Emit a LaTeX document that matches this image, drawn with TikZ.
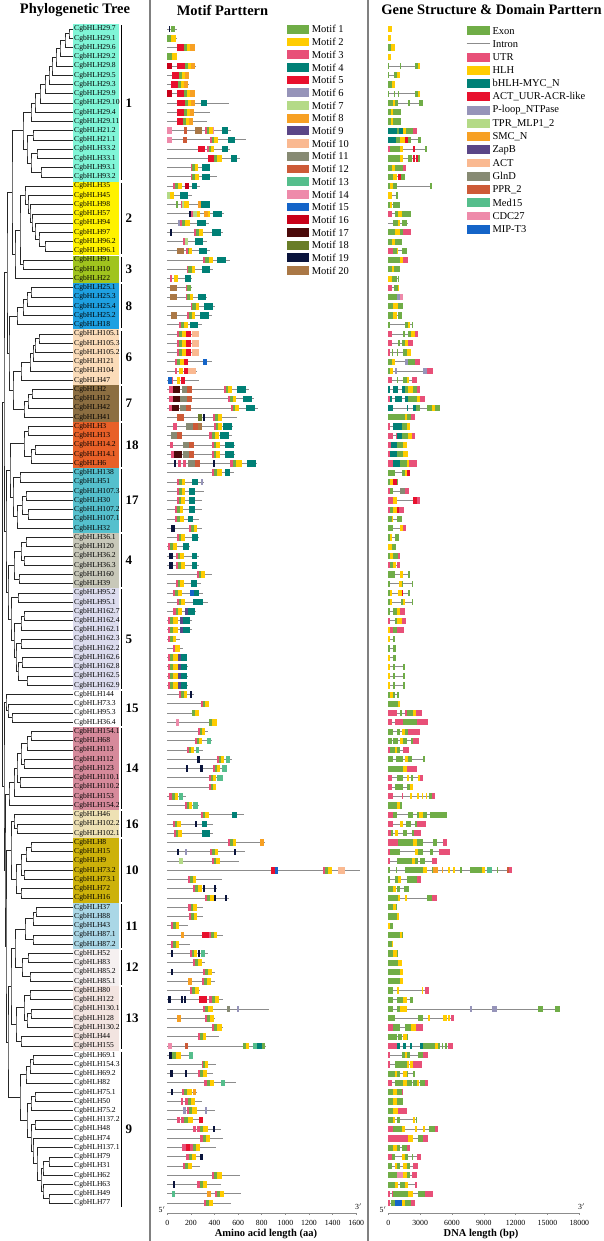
\documentclass[tikz,border=0pt]{standalone}
\usepackage{fontspec}
\setmainfont{Liberation Serif}
\usetikzlibrary{calc}

% motif / domain palette
\definecolor{m1}{RGB}{112,173,71}
\definecolor{m2}{RGB}{255,204,0}
\definecolor{m3}{RGB}{232,80,120}
\definecolor{m4}{RGB}{0,128,118}
\definecolor{m5}{RGB}{232,16,45}
\definecolor{m6}{RGB}{150,148,185}
\definecolor{m7}{RGB}{180,218,135}
\definecolor{m8}{RGB}{247,160,35}
\definecolor{m9}{RGB}{90,70,135}
\definecolor{m10}{RGB}{250,185,145}
\definecolor{m11}{RGB}{135,138,115}
\definecolor{m12}{RGB}{205,90,55}
\definecolor{m13}{RGB}{85,190,140}
\definecolor{m14}{RGB}{238,138,170}
\definecolor{m15}{RGB}{20,100,200}
\definecolor{m16}{RGB}{200,0,25}
\definecolor{m17}{RGB}{75,10,10}
\definecolor{m18}{RGB}{105,125,40}
\definecolor{m19}{RGB}{10,20,60}
\definecolor{m20}{RGB}{170,120,70}
% clade shading
\definecolor{grpA}{RGB}{128,245,215}
\definecolor{grpB}{RGB}{255,242,0}
\definecolor{grpC}{RGB}{160,196,30}
\definecolor{grpD}{RGB}{30,160,225}
\definecolor{grpE}{RGB}{251,220,185}
\definecolor{grpF}{RGB}{140,110,65}
\definecolor{grpG}{RGB}{232,96,40}
\definecolor{grpH}{RGB}{85,192,205}
\definecolor{grpI}{RGB}{200,200,185}
\definecolor{grpJ}{RGB}{220,220,238}
\definecolor{grpK}{RGB}{214,138,155}
\definecolor{grpL}{RGB}{238,225,180}
\definecolor{grpM}{RGB}{205,178,10}
\definecolor{grpN}{RGB}{170,215,230}
\definecolor{grpO}{RGB}{245,240,240}
\definecolor{grpP}{RGB}{242,228,224}

% row r sits at y = 19.755 + r*9.245 (pixel grid, y downwards)
\newcommand{\rowy}[1]{19.755+#1*9.245}
% dendrogram joint: name, x, child, child
\newcommand{\clade}[4]{%
  \path let \p1=(#3), \p2=(#4) in coordinate (#1) at (#2pt,{0.5*(\y1+\y2)});
  \draw[branch] (#3) -| (#1) |- (#4);}
% motif row: row, length, boxes x/w/colour (colour 0 = pink-green-yellow block)
\newcommand{\motifrow}[3]{%
  \draw[prot] (167.3,{\rowy{#1}}) -- ++(#2,0);
  \foreach \bx/\bw/\bc in {#3}{
    \ifnum\bc=0
      \fill[m3] ({167.3+\bx},{\rowy{#1}-3.3}) rectangle ++({0.25*\bw},6.6);
      \fill[m1] ({167.3+\bx+0.25*\bw},{\rowy{#1}-3.3}) rectangle ++({0.3*\bw},6.6);
      \fill[m2] ({167.3+\bx+0.55*\bw},{\rowy{#1}-3.3}) rectangle ++({0.45*\bw},6.6);
    \else
      \fill[m\bc] ({167.3+\bx},{\rowy{#1}-3.3}) rectangle ++(\bw,6.6);
    \fi}}
% gene row: row, length, exons x/w/colour
\newcommand{\generow}[3]{%
  \draw[prot] (388.3,{\rowy{#1}}) -- ++(#2,0);
  \foreach \bx/\bw/\bc in {#3}
    \fill[m\bc] ({388.3+\bx},{\rowy{#1}-3.1}) rectangle ++(\bw,6.2);}

\begin{document}
\begin{tikzpicture}[
    x=1pt, y=-1pt,
    every node/.style={inner sep=0pt},
    title/.style ={font=\fontsize{14.5}{16}\selectfont\bfseries},
    gene/.style  ={anchor=west,font=\fontsize{7.6}{8}\selectfont},
    grpnum/.style={anchor=west,font=\fontsize{13}{14}\selectfont\bfseries},
    legtxt/.style={anchor=west,font=\fontsize{10.5}{12}\selectfont},
    tick/.style  ={font=\fontsize{7.8}{9}\selectfont},
    axtitle/.style={font=\fontsize{10.5}{12}\selectfont\bfseries},
    branch/.style={line width=0.75pt,black!85},
    prot/.style  ={line width=0.9pt,black!45},
    sep/.style   ={line width=1.6pt,black!50},
  ]
  \useasboundingbox (0,0) rectangle (603,1241);

  % Titles and panel separators
  \node[title] (t1) at (75,10) {Phylogenetic Tree};
  \node[title] (t2) at (222.5,10) {Motif Parttern};
  \node[title] (t3) at (491.5,10) {Gene Structure \& Domain Parttern};
  \draw[sep] (150,0) -- (150,1241);
  \draw[sep] (368,0) -- (368,1241);

  % Clade shading, bars and numbers
  \foreach \a/\b/\c/\n in {1/17/grpA/1,18/25/grpB/2,26/28/grpC/3,29/33/grpD/8,
      34/39/grpE/6,40/43/grpF/7,44/48/grpG/18,49/55/grpH/17,56/61/grpI/4,
      62/72/grpJ/5,73/76/white/15,77/85/grpK/14,86/88/grpL/16,89/95/grpM/10,
      96/100/grpN/11,101/104/grpO/12,105/111/grpP/13,112/128/white/9}{
    \fill[\c] (73.3,{\rowy{\a}-4.6}) rectangle (119,{\rowy{\b}+4.6});
    \draw[line width=1pt] (121.7,{\rowy{\a}-3.5}) -- (121.7,{\rowy{\b}+3.5});
    \node[grpnum] (n\n) at (125.5,{0.5*(\rowy{\a}+\rowy{\b})}) {\n};
  }

  % Leaves and labels
  \foreach \g [count=\i] in {29.7,29.1,29.6,29.2,29.8,29.5,29.3,29.9,29.10,29.4,
      29.11,21.2,21.1,33.2,33.1,93.1,93.2,35,45,98,57,94,97,96.2,96.1,91,10,22,
      25.1,25.3,25.4,25.2,18,105.1,105.3,105.2,121,104,47,2,12,42,41,3,13,14.2,
      14.1,6,138,51,107.3,30,107.2,107.1,32,36.1,120,36.2,36.3,160,39,95.2,95.1,
      162.7,162.4,162.1,162.3,162.2,162.6,162.8,162.5,162.9,144,73.3,95.3,36.4,
      154.1,68,113,112,123,110.1,110.2,153,154.2,46,102.2,102.1,8,15,9,73.2,73.1,
      72,16,37,88,43,87.1,87.2,52,83,85.2,85.1,80,122,130.1,128,130.2,44,155,
      69.1,154.3,69.2,82,75.1,50,75.2,137.2,48,74,137.1,79,31,62,63,49,77}{
    \coordinate (l\i) at (73,{\rowy{\i}});
    \node[gene] (lab\i) at (74,{\rowy{\i}}) {CgbHLH\g};
  }

  % Tree: clade 1
  \clade{a1}{69}{l1}{l2} \clade{a2}{65}{a1}{l3} \clade{a3}{60}{a2}{l4}
  \clade{a4}{56}{a3}{l5} \clade{a5}{52}{a4}{l6} \clade{a6}{49}{a5}{l7}
  \clade{a7}{45}{a6}{l8} \clade{a8}{40}{a7}{l9} \clade{a9}{35}{a8}{l10}
  \clade{a10}{31}{a9}{l11}
  \clade{b1}{33}{l12}{l13} \clade{b2}{37}{l14}{l15} \clade{b3}{41}{l16}{l17}
  \clade{b4}{31}{b2}{b3} \clade{b5}{27}{b1}{b4} \clade{g1}{23}{a10}{b5}
  % clades 2 and 3
  \clade{c1}{45}{l24}{l25} \clade{c2}{39}{l23}{c1} \clade{c3}{35}{l22}{c2}
  \clade{c4}{32}{l21}{c3} \clade{c5}{30}{l20}{c4} \clade{c6}{28}{l19}{c5}
  \clade{g2}{25}{l18}{c6}
  \clade{d1}{23}{l26}{l27} \clade{d2}{20}{g2}{d1} \clade{g3}{15}{d2}{l28}
  \clade{t1}{12}{g1}{g3}
  % clades 8, 6, 7
  \clade{e1}{31}{l29}{l30} \clade{e2}{27}{e1}{l31} \clade{e3}{23}{e2}{l32}
  \clade{g8}{17}{e3}{l33}
  \clade{f1}{39}{l34}{l35} \clade{f2}{35}{f1}{l36} \clade{f3}{33}{f2}{l37}
  \clade{f4}{30}{f3}{l38} \clade{g6}{21}{f4}{l39}
  \clade{h1}{32}{l40}{l41} \clade{h2}{28}{h1}{l42} \clade{g7}{24}{h2}{l43}
  \clade{m1}{13}{g6}{g7} \clade{m2}{9}{g8}{m1}
  % clades 18, 17
  \clade{i1}{28}{l44}{l45} \clade{i2}{35}{l46}{l47} \clade{i3}{31}{i2}{l48}
  \clade{g18}{24}{i1}{i3}
  \clade{j1}{20}{l49}{l50} \clade{j2}{26}{l51}{l52} \clade{j3}{28}{l53}{l54}
  \clade{j4}{22}{j2}{j3} \clade{j5}{17}{j4}{l55} \clade{g17}{13}{j1}{j5}
  \clade{m3}{10}{g18}{g17}
  % clades 4, 5
  \clade{k1}{26}{l56}{l57} \clade{k2}{24}{l58}{l59} \clade{k3}{21}{k1}{k2}
  \clade{k4}{19}{l60}{l61} \clade{g4}{14}{k3}{k4}
  \clade{o1}{18}{l62}{l63} \clade{o2}{24}{l64}{l65} \clade{o3}{21}{o2}{l66}
  \clade{o4}{21}{l67}{l68} \clade{o5}{22}{l69}{l70} \clade{o6}{27}{l71}{l72}
  \clade{o7}{18}{o5}{o6} \clade{o8}{16}{o4}{o7} \clade{o9}{14}{o3}{o8}
  \clade{g5}{11}{o1}{o9} \clade{m4}{8}{g4}{g5}
  % clades 15, 14, 16, 10
  \clade{p1}{12}{l75}{l76} \clade{p2}{8}{l74}{p1} \clade{g15}{6}{l73}{p2}
  \clade{q1}{31}{l77}{l78} \clade{q2}{27}{q1}{l79} \clade{q3}{24}{l80}{l81}
  \clade{q4}{21}{q2}{q3} \clade{q5}{20}{l82}{l83} \clade{q6}{17}{q4}{q5}
  \clade{q7}{14}{q6}{l84} \clade{g14}{9}{q7}{l85}
  \clade{r1}{17}{l87}{l88} \clade{g16}{14}{l86}{r1}
  \clade{s1}{31}{l89}{l90} \clade{s2}{26}{s1}{l91} \clade{s3}{24}{l92}{l93}
  \clade{s4}{21}{s2}{s3} \clade{s5}{21}{l94}{l95} \clade{g10}{16}{s4}{s5}
  % clades 11, 12, 13, 9
  \clade{u1}{36}{l96}{l97} \clade{u2}{33}{u1}{l98} \clade{u3}{33}{l99}{l100}
  \clade{g11}{25}{u2}{u3}
  \clade{v1}{28}{l101}{l102} \clade{v2}{30}{l103}{l104} \clade{g12}{22}{v1}{v2}
  \clade{w1}{30}{l105}{l106} \clade{w2}{31}{l107}{l108} \clade{w3}{27}{w2}{l109}
  \clade{w4}{24}{w1}{w3} \clade{w5}{21}{l110}{l111} \clade{g13}{16}{w4}{w5}
  \clade{x1}{33}{l112}{l113} \clade{x2}{30}{x1}{l114} \clade{x3}{26}{x2}{l115}
  \clade{x4}{35}{l116}{l117} \clade{x5}{31}{x4}{l118} \clade{x6}{35}{l119}{l120}
  \clade{y1}{49}{l123}{l124} \clade{y2}{43}{y1}{l125} \clade{y3}{49}{l127}{l128}
  \clade{y4}{43}{l126}{y3} \clade{y5}{41}{y2}{y4} \clade{y6}{37}{l122}{y5}
  \clade{y7}{33}{l121}{y6} \clade{x7}{31}{x6}{y7} \clade{x8}{27}{x5}{x7}
  \clade{g9}{20}{x3}{x8}
  % backbone
  \clade{U1}{7}{t1}{m2} \clade{U2}{6}{m3}{m4} \clade{U3}{4}{U1}{U2}
  \clade{L1}{11}{g16}{g10} \clade{L2}{15}{g11}{g12} \clade{L3}{11}{L2}{g13}
  \clade{L4}{8}{L3}{g9} \clade{L5}{6}{L1}{L4} \clade{L6}{5}{g14}{L5}
  \clade{L7}{4}{g15}{L6} \clade{root}{2.5}{U3}{L7}

  % Motif pattern
  \motifrow{1}{9.4}{1.7/1.3/19,3.7/4/1}
  \motifrow{2}{9.4}{0/3.7/1,3.7/4.6/2}
  \motifrow{3}{27.8}{10/6.7/5,16.7/2.7/1,19.4/3.3/2,22.7/4.7/8}
  \motifrow{4}{9.4}{0/4.3/1,4.3/5/2}
  \motifrow{5}{28.7}{0/5/16,10/7.7/5,17.7/2.6/1,20.3/3/2,23.3/4.7/8}
  \motifrow{6}{22}{4.4/7.3/5,11.7/2.6/1,14.3/3/2,17.3/4/8}
  \motifrow{7}{21.4}{3.4/7.7/5,11.1/2.6/1,13.7/3/2,16.7/4.3/8}
  \motifrow{8}{28}{0/5/16,10/7/5,17/2.7/1,19.7/3/2,22.7/4.6/8}
  \motifrow{9}{62}{10/7.7/5,17.7/2.6/1,20.3/3/2,23.3/4.7/8,33.4/6/4}
  \motifrow{10}{42.7}{9.4/7.3/5,16.7/2.7/1,19.4/3.3/2,22.7/4.3/8}
  \motifrow{11}{39.4}{9.4/6.6/5,16/2.7/1,18.7/3.3/2,22/3.3/8}
  \motifrow{12}{63.4}{0/4.3/14,16.7/2.7/12,27.4/7/20,37.4/2/3,39.4/2.7/1,42.1/3.3/2,45.4/1/14,54.4/6/4}
  \motifrow{13}{78.7}{0/4.3/14,16/3.3/12,42.7/2/3,44.7/2.3/1,47/3.3/2,60.4/7.3/4}
  \motifrow{14}{62.7}{31/6.7/5,39.4/2.3/3,41.7/2/1,43.7/3/2,54.7/5.7/4}
  \motifrow{15}{72.7}{40.4/6.3/5,46.7/3.3/1,50/4.3/2,63.4/6.6/4}
  \motifrow{16}{42.7}{23.7/1.3/3,25/2.7/1,27.7/3.3/2,34.4/8.3/4}
  \motifrow{17}{49.4}{23.4/1.7/3,25/2.7/1,27.7/4/2,34.4/8.3/4}
  \motifrow{18}{32.7}{6/1.7/3,7.7/3.3/1,11/4/2,17.7/4/16,24.4/5/4}
  \motifrow{19}{24.4}{0/3/7,3/3.7/2,12.7/7.7/4}
  \motifrow{20}{42.7}{8.4/2.6/1,13.4/1.7/3,15/2/7,16.7/4.6/2,30.4/3.3/8,33.7/9/4}
  \motifrow{21}{56.7}{21.7/1.5/19,23.4/2.6/3,26/4/7,30/3/2,37/4/8,41/2/2,45.4/9/4}
  \motifrow{22}{42}{11/1.7/6,12.7/2.3/3,15/2.7/1,17.7/5/2,30/8.7/4}
  \motifrow{23}{56}{2.7/2.3/19,27/1.3/3,28.3/3.7/1,32/3.3/2,44.4/9/4}
  \motifrow{24}{39.4}{16/1.7/3,17.7/3.3/7,27.7/8.3/4}
  \motifrow{25}{42.7}{9.4/7.3/20,18.7/1.7/3,20.4/1.6/1,22/3/2,31.7/7.7/4}
  \motifrow{26}{62.7}{35.4/2/3,37.4/4/1,41.4/4.6/2,50/8.7/4}
  \motifrow{27}{46}{19.4/1.7/3,21/3.4/1,24.4/3/2,34.4/8.3/4}
  \motifrow{28}{24.4}{2.7/2.3/3,7/3.3/2,17.7/6/4}
  \motifrow{29}{24.4}{2.7/6.7/20,18.7/1.3/3,20/3.4/1}
  \motifrow{30}{39.4}{2.7/7.3/20,18.7/1.3/3,20/2.7/1,22.7/3.3/2,30.4/8.3/4}
  \motifrow{31}{47.7}{23.7/1.3/3,25/3.4/1,28.4/3.6/2,37/9/4}
  \motifrow{32}{44.4}{3.4/6.6/20,20/1.7/3,21.7/2.6/1,24.3/3.4/2,32.7/9/4}
  \motifrow{33}{34.4}{12/1.7/3,13.7/3/1,16.7/3.6/2,22.7/8.3/4}
  \motifrow{34}{31.7}{9.4/9/0,18.4/5/5,24.4/7.3/10}
  \motifrow{35}{31.7}{9.4/9/0,18.4/5/5,24.4/7.3/10}
  \motifrow{36}{31.7}{9.4/9/0,18.4/5/5,24.4/7.3/10}
  \motifrow{37}{45}{7.7/8.7/0,16.7/4.4/5,36/4/15}
  \motifrow{38}{29.4}{7.7/2.3/3,12/4/2,16.7/4.3/5,21/7.7/10}
  \motifrow{39}{31.7}{1/3.4/15,4.4/1.6/3,9.4/3.3/2,13.4/4.3/5}
  \motifrow{40}{82}{2/3.4/3,5.4/7.3/17,14.4/5/11,19.4/5/12,56.7/7.7/0,70/8.4/4}
  \motifrow{41}{86.7}{2/3.4/3,5.4/7.3/17,12.7/6.6/11,19.4/5/12,61/7.7/0,75.4/9/4}
  \motifrow{42}{91}{2/2.4/3,4.4/7.6/17,12.7/6/11,18.7/5.3/12,63.4/8.3/0,78.7/9/4}
  \motifrow{43}{70}{9.4/7.3/12,30.4/4/18,36/2/19,46/8.4/0}
  \motifrow{44}{65.4}{6/3.4/3,18.7/7.3/11,26/5/12,31/3.4/20,46.7/7.7/0,56/8.4/4}
  \motifrow{45}{64.4}{3.4/6/11,9.4/5/12,42/10/0,52.7/9.4/4}
  \motifrow{46}{67.7}{2.7/3.3/3,15.4/6/11,21.4/5.3/12,44.4/8.3/0,57.7/9/4}
  \motifrow{47}{67.7}{3.4/3.3/3,6.7/7.7/17,15.4/6/11,21.4/5.3/12,44.4/8.3/0,57.7/9/4}
  \motifrow{48}{90}{6.7/2/19,11/2.4/3,16/2.4/3,21/7/11,28/4.7/12,46/2/19,62.7/11.7/0,80/8.7/4}
  \motifrow{49}{66.7}{44.4/10/0,57.7/5/4}
  \motifrow{50}{36.7}{10/7.7/0,24.4/6.6/4,33.4/2.6/6}
  \motifrow{51}{36.7}{10/7.7/0,22/5.7/4}
  \motifrow{52}{35}{9.4/8.3/0,22/5.7/4}
  \motifrow{53}{34.4}{7.7/8.3/0,22/5.7/4}
  \motifrow{54}{32}{7.7/9/0,21/5/4}
  \motifrow{55}{34.4}{3.4/4.3/19,22/8/0}
  \motifrow{56}{32}{9.4/8.3/0,24.4/6.6/4}
  \motifrow{57}{22.7}{1/1.7/3,2.7/3/1,5.7/3.7/2,15.4/6.6/4}
  \motifrow{58}{32}{2/3.4/19,8.7/8/0,24.4/5.6/4}
  \motifrow{59}{32}{2/3.4/19,8.7/9/0,24.4/5.6/4}
  \motifrow{60}{45}{29.4/8.3/0}
  \motifrow{61}{33.4}{8.7/8/0,23.4/6/4}
  \motifrow{62}{35.4}{6/1.7/3,7.7/3/1,10.7/3.7/2,22.7/4/15,26.7/5/4}
  \motifrow{63}{41}{9.4/8.3/0,26/9.4/4}
  \motifrow{64}{28.7}{5.4/1.3/3,6.7/7.7/0,17.7/3.3/9,21/6.7/4}
  \motifrow{65}{24.4}{1/1.7/3,2.7/3/1,5.7/5/2,12.7/3.4/9,16/6.7/4}
  \motifrow{66}{25}{1/1.7/3,2.7/3/1,5.7/5/2,12.7/3.4/9,16/6.7/4}
  \motifrow{67}{12.4}{1/1.7/3,2.7/3/1,5.7/3/2}
  \motifrow{68}{15.4}{5.4/2.3/3,7.7/5/2}
  \motifrow{69}{20}{1/1.7/3,2.7/3/1,5.7/4.6/2,11/2.4/9,13.4/6.6/4}
  \motifrow{70}{21}{1/1.7/3,2.7/3/1,5.7/4.6/2,11/2.4/9,13.4/6.6/4}
  \motifrow{71}{21}{1/1.7/3,2.7/3/1,5.7/4.6/2,11/2.4/9,13.4/6.6/4}
  \motifrow{72}{21}{1/1.7/3,2.7/3/1,5.7/4.6/2,11/2.4/9,13.4/6.6/4}
  \motifrow{73}{26.7}{12/7.7/0,22.7/2/19}
  \motifrow{74}{41}{33.4/8.3/0}
  \motifrow{75}{32}{24.4/3/1,27.4/4.6/2}
  \motifrow{76}{49.4}{8.7/3.3/14,42/3/1,45/4.4/2}
  \motifrow{77}{41}{31/6.7/0}
  \motifrow{78}{44.4}{27.7/6.7/0,39.4/4/13}
  \motifrow{79}{36}{20/6.7/0,28.7/3.3/13}
  \motifrow{80}{64.4}{30/2.7/19,50/6.7/0,58.7/4/13}
  \motifrow{81}{59.4}{18.7/2.3/19,32.7/2.6/19,46/6.7/0,54.4/5/13}
  \motifrow{82}{56}{42/6.7/0,50/5.4/13}
  \motifrow{83}{48.7}{42/6.7/0}
  \motifrow{84}{18.7}{2/2.3/3,4.4/3/1,7.4/3.6/2,12/4/13}
  \motifrow{85}{32}{17.7/6.7/0,26/5/13}
  \motifrow{86}{76.7}{33.4/8.6/0,64.4/5.6/4}
  \motifrow{87}{45.4}{5.4/8/0,27.7/2.3/19,34.4/5.6/4}
  \motifrow{88}{45.4}{6.7/7.6/0,34.4/8.3/4}
  \motifrow{89}{97.7}{61/7.7/0,92.7/4/8}
  \motifrow{90}{77.7}{10/2/19,17.7/1.7/6,42.7/8.3/0,66.7/2/19}
  \motifrow{91}{71.7}{12/4/7,44.4/8.3/0}
  \motifrow{92}{192.7}{103.4/4.3/5,107.7/3.3/15,155.4/9/0,171/6.7/10}
  \motifrow{93}{54.4}{21/7.7/0}
  \motifrow{94}{49.4}{26/8.4/0,36/2/19,46.7/2/19}
  \motifrow{95}{61.7}{37.7/9/0,46.7/2/19,57.7/2.3/19}
  \motifrow{96}{35.4}{21/9/0}
  \motifrow{97}{36}{22/8/0}
  \motifrow{98}{21}{3.4/2/3,5.4/3/1,8.4/3.6/2}
  \motifrow{99}{56}{13.4/3.3/8,34.4/7.6/5,42/8/0}
  \motifrow{100}{22.7}{3.4/2/3,5.4/3/1,8.4/3.6/2}
  \motifrow{101}{41}{3.4/2.7/19,22.7/7.3/0,31/1.7/19,33.4/4.3/13}
  \motifrow{102}{37.7}{26/8.4/0}
  \motifrow{103}{47.7}{3.4/2/19,35.4/9/0}
  \motifrow{104}{47.7}{21/3.4/8,34.4/9/0}
  \motifrow{105}{32.7}{22.7/9.3/0}
  \motifrow{106}{56}{1/2.4/19,13.4/2.3/19,16.4/2.3/19,32/7.4/5,42/10/0}
  \motifrow{107}{102}{35.4/10/0,59.4/3.3/11,70/2/6}
  \motifrow{108}{47.7}{10/3.4/8,37.7/9/0}
  \motifrow{109}{55.4}{44.4/10/0}
  \motifrow{110}{52}{31/7.7/0}
  \motifrow{111}{98.7}{1/3.4/14,17.7/3.3/12,76/3/1,79/3/2,85.4/4/13,89.4/5/4,94.4/3.3/1}
  \motifrow{112}{26}{2/2.7/19,4.7/4/1,8.7/5/2,22/3.3/13}
  \motifrow{113}{48.7}{34.4/6.7/0}
  \motifrow{114}{45.4}{2.7/2.7/19,17.7/2.3/19,31/8.4/0}
  \motifrow{115}{68.7}{36.7/10/0,53.4/4.3/13}
  \motifrow{116}{30}{3.4/2.6/19,14.4/10/0,25.4/3.3/8}
  \motifrow{117}{34.4}{13.4/2.7/3,17.7/10/0}
  \motifrow{118}{47.7}{16/2.7/6,19.4/10/0,37.7/1.7/6}
  \motifrow{119}{36}{10/2.7/3,13.4/12.6/0,32/4/5}
  \motifrow{120}{53.4}{25.4/3.3/3,30/11/0,46/2/19}
  \motifrow{121}{56}{32.7/10/0}
  \motifrow{122}{48.7}{14.4/4.3/3,18.7/4/5,22.7/10/0}
  \motifrow{123}{36}{18.7/10/0,32.7/2.6/19}
  \motifrow{124}{32.7}{15.4/9/0}
  \motifrow{125}{72.7}{44.4/10/0}
  \motifrow{126}{53.4}{5.4/2.3/19,30/10/0}
  \motifrow{127}{73.4}{4.4/3.3/13,39.4/4/8,47.7/9/0}
  \motifrow{128}{63.4}{36.7/9.3/0}

  % Motif legend
  \foreach \k in {1,...,20}{
    \fill[m\k] (286.7,{29.3+(\k-1)*12.7-4.4}) rectangle ++(22.6,8.8);
    \node[legtxt] (ml\k) at (311.7,{29.3+(\k-1)*12.7}) {Motif \k};
  }

  % Gene structure
  \generow{1}{3.3}{0/3.3/2}
  \generow{2}{2.7}{0/2.7/2}
  \generow{3}{6.7}{0/3/1,3/3.7/2}
  \generow{4}{2.3}{0/2.3/2}
  \generow{5}{31.7}{0/1/1,11.7/1/1,26.7/2.7/1,29.4/2.3/2}
  \generow{6}{11.7}{0/1/1,6/2.3/1,8.3/3.4/2}
  \generow{7}{6.7}{0/3.3/1,3.3/3.4/2}
  \generow{8}{31.7}{0/1/1,6/1/1,10/1/1,26.7/2.7/1,29.4/2.3/2}
  \generow{9}{34.4}{0/5/1,5/1.7/2,6.7/2.6/1,20/1.7/1,31/3.4/1}
  \generow{10}{12.7}{0/2.7/1,2.7/2.3/2,5/7.7/1}
  \generow{11}{12.7}{0/2.7/1,2.7/2.3/2,5/7.7/1}
  \generow{12}{28.4}{0/8.3/4,8.3/2.4/1,10.7/4.3/4,15/2.3/2,17.3/7.7/1,25/3.4/3}
  \generow{13}{32.7}{0/7.3/4,7.3/4.4/1,11.7/5/2,16.7/3.3/5,20/2.7/1,30/2.7/1}
  \generow{14}{38.3}{0/1.7/3,1.7/10/1,11.7/3.3/2,24.4/2.3/5,36.7/1.6/1}
  \generow{15}{31.7}{0/11.7/1,11.7/3.3/2,20/3.3/1,25/1.7/5,27.7/2.3/5,30/1.7/1}
  \generow{16}{17.3}{0/3.3/1,3.3/3.4/2,6.7/8.3/1,15/2.3/3}
  \generow{17}{16.7}{0/5/1,5/3.3/2,10/2.7/5,12.7/4/1}
  \generow{18}{43.3}{0/1.7/1,1.7/3.3/2,5/3.3/1,41.7/1.6/1}
  \generow{19}{9.3}{0/3.3/2,7.3/2/1}
  \generow{20}{11.7}{0/1.7/1,1.7/1.6/2,5/6.7/1}
  \generow{21}{22.7}{0/3.3/3,6.7/3.3/1,10/3.3/2,13.3/9.4/1}
  \generow{22}{20}{5/5/1,10/1.7/2,13.3/5/1}
  \generow{23}{22.7}{0/6.7/1,6.7/5/2,11.7/3.3/1,15/7.7/3}
  \generow{24}{13.3}{0/3.3/1,3.3/3.4/2,6.7/6.6/1}
  \generow{25}{18.3}{0/5/3,5/3.3/1,8.3/1.7/2,13.3/5/1}
  \generow{26}{19.3}{0/11.7/1,11.7/3.3/2,15/4.3/3}
  \generow{27}{11.7}{0/3.3/1,3.3/2.7/2,6/5.7/1}
  \generow{28}{10.7}{0/3.3/2,3.3/5/1,10/0.7/1}
  \generow{29}{11}{0/4/3,5.7/3.6/1,9.3/1.7/2}
  \generow{30}{15}{0/8.3/1,8.3/3.4/6,11.7/3.3/14}
  \generow{31}{15}{0/5/1,5/5/2,10/5/1}
  \generow{32}{14}{0/5/1,5/3.3/2,9.3/4.7/1}
  \generow{33}{25}{0/1.7/1,16.7/3.3/1,20/1.7/2,23.3/1.7/1}
  \generow{34}{29.4}{0/3.4/3,15/1.7/1,20/3/1,23/3.4/2,26.7/2.7/3}
  \generow{35}{24.4}{0/3.4/3,10/2/1,13.4/3.3/1,16.7/3.3/2,20/4.4/3}
  \generow{36}{22.4}{0/1.7/3,3.4/1.7/1,8.4/1.7/1,15/3.4/1,18.4/4/2}
  \generow{37}{31.7}{0/3.4/1,3.4/3.3/2,16.7/3.3/6,20/6.7/1,26.7/5/3}
  \generow{38}{45}{0/1.7/1,1.7/3.3/2,6.7/1.7/6,35/3.3/6,38.4/6.6/3}
  \generow{39}{29}{0/3.4/3,8.4/1.7/1,15/3.4/1,18.4/2.6/2,23.4/5.6/3}
  \generow{40}{31.7}{0/1.7/4,5/5/4,13.4/3.3/4,16.7/3.3/1,20/5/2,25/3.4/1,28.4/3.3/3}
  \generow{41}{36.7}{0/1.7/3,1.7/1.7/4,6.7/6.7/4,16.7/3.3/4,20/8.4/1,28.4/3.3/2,31.7/5/3}
  \generow{42}{51.7}{0/5/4,18.4/1.6/4,24.4/3.3/4,27.7/4/1,38.4/5/1,43.4/3.3/2,46.7/5/1}
  \generow{43}{26.7}{0/16.7/1,16.7/2.3/2,19/3.4/1,22.4/4.3/3}
  \generow{44}{21.7}{0/1.7/3,5/8.4/4,13.4/5/1,18.4/3.3/2}
  \generow{45}{26.7}{0/4.3/3,7.7/1.3/3,9/4.4/4,13.4/6.6/1,20/3.4/2,23.4/3.3/3}
  \generow{46}{18.4}{0/2.3/3,2.3/6.7/4,9/6/1,15/3.4/2}
  \generow{47}{20}{0/1.7/3,1.7/7.3/4,9/6/1,15/5/2}
  \generow{48}{28.4}{0/5/3,5/6.7/4,11.7/6.7/1,18.4/2.6/2,21/7.4/3}
  \generow{49}{21.7}{0/6.7/1,13.4/3.3/1,16.7/2.3/2,19/2.7/5}
  \generow{50}{10}{0/1.7/1,1.7/3.3/2,5/3.4/5,8.4/1.6/1}
  \generow{51}{21}{0/1.7/3,1.7/3.3/1,11.7/5/11,16.7/4.3/3}
  \generow{52}{31.7}{0/5/3,5/3.4/2,24.4/4/5,28.4/3.3/3}
  \generow{53}{15.7}{0/1.7/3,1.7/3.3/1,5/3.4/2,8.4/2.6/5,11/4.7/3}
  \generow{54}{13.4}{0/3.4/1,3.4/1.6/2,8.4/5/1}
  \generow{55}{17.7}{0/5/1,11.7/3.3/2,15/2.7/3}
  \generow{56}{11}{0/1.7/1,1.7/1.7/2,6.7/4.3/1}
  \generow{57}{7.4}{0/3.4/2,3.4/4/1}
  \generow{58}{11.7}{0/1.7/1,1.7/3.3/2,5/5/1,10/1.7/3}
  \generow{59}{11.7}{0/1.7/3,1.7/3.3/1,5/2.7/2,8.4/3.3/3}
  \generow{60}{21}{0/6.7/1,11.7/2.7/2,20/1.2/1}
  \generow{61}{25}{0/1.7/1,11/2.4/2,13.4/1.6/1,23.4/1.6/1}
  \generow{62}{21}{0/1.7/1,1.7/1.7/2,10/3.4/2,13.4/1.6/5,20/1.2/1}
  \generow{63}{25}{0/1.7/1,1.7/1.7/2,12.4/2/1,14.4/2.3/2,23.4/1.6/1}
  \generow{64}{16.7}{0/1.7/1,5/3.4/1,8.4/3.3/2,11.7/5/3}
  \generow{65}{17.7}{0/1.7/3,6.7/1.7/1,8.4/5/2,13.4/4.3/3}
  \generow{66}{15.7}{0/1.7/2,1.7/3.3/3,5/4/1,9/6.7/3}
  \generow{67}{6.7}{0/1.7/2,4.4/2.3/1}
  \generow{68}{7.7}{0/1.7/1,4.4/3.3/1}
  \generow{69}{7.7}{0/1.7/2,4.4/3.3/1}
  \generow{70}{16.7}{0/1.7/2,4.4/2.3/1,15/1.7/1}
  \generow{71}{16.7}{0/1.7/2,4.4/2.3/1,15/1.7/1}
  \generow{72}{16.7}{0/1.7/2,4.4/2.3/1,15/1.7/1}
  \generow{73}{11}{0/1.7/1,1.7/3.3/2,5/1.7/1,9/2/1}
  \generow{74}{11.7}{0/10/1,10/1.7/2}
  \generow{75}{33.4}{0/9/3,11.7/1.7/1,16.7/2/3,18.4/6.6/1,25/2.7/2,27.7/5.7/3}
  \generow{76}{40}{0/3.4/3,6.7/8.3/3,15/13.4/1,28.4/11.6/3}
  \generow{77}{31.7}{0/5/1,8.4/3.3/1,13.4/3.3/2,16.7/3.3/1,20/11.7/3}
  \generow{78}{31}{0/3.4/1,5/5/1,11.7/3.3/2,15/3.4/1,22.4/2.6/1,25/6/3}
  \generow{79}{21}{0/1.7/3,1.7/5/1,6.7/2.3/2,9/2.7/1,15/6/3}
  \generow{80}{36.7}{0/5/1,7.7/7.3/1,16.7/3.3/2,20/3.4/1,35/1.7/1}
  \generow{81}{29}{0/15/1,15/3.4/2,18.4/10.6/3}
  \generow{82}{35}{0/4/3,8.4/6.6/1,18.4/2.6/2,22.4/2.6/1,30/2/2,32/3/3}
  \generow{83}{25}{0/4/3,6.7/8.3/1,18.4/3.3/1,21.7/3.3/2}
  \generow{84}{46.7}{0/5/3,13.4/1/3,21.7/1.6/2,29/2/2,33.4/1.6/2,37.7/1.3/2,41/2.6/1,43.4/3.3/3}
  \generow{85}{13.4}{0/9/1,9/2.4/2,11.4/2/1}
  \generow{86}{58.4}{0/5/3,5/4/1,20/4.4/1,28.4/2.6/1,31/4/2,35/3.4/1,41.7/13/1,54.7/3.7/1}
  \generow{87}{37.7}{0/4.3/3,11.7/3.3/2,17.7/4.7/1,26.7/2.3/1,29/8.7/3}
  \generow{88}{32.4}{0/2.3/3,2.3/2.7/1,6.7/3.3/2,15/3.4/1,23.4/2.3/1,25.7/6.7/3}
  \generow{89}{59}{0/10/3,10/15/1,25/3.4/2,28.4/6.6/1,45/3.4/1,55/4/3}
  \generow{90}{61.7}{0/1.7/3,1.7/10/1,26.7/3.3/2,30/5/1,41.7/3.3/1,51/10.7/3}
  \generow{91}{48.4}{0/1.7/3,8.4/15/1,23.4/3.3/2,26.7/3.3/1,31.7/5/1,43.4/5/3}
  \generow{92}{123.3}{0/1.2/1,7.7/1.3/1,16.7/18.3/1,35/3.3/2,43.4/1.7/1,45/5/8,53.4/1.7/8,60/1.7/2,65/1.7/2,71.7/1.7/1,81.7/11.7/1,93.4/3.3/2,98.4/5/13,108.4/1.7/1,118.4/2.4/12,120.8/2.5/3}
  \generow{93}{32.4}{0/1.7/1,6.7/3.3/1,10/2.4/2,19/6/1,25/3.4/1,28.4/4/3}
  \generow{94}{21}{0/5/1,5/2.7/2,9/2.7/1,15.7/5.3/1}
  \generow{95}{48.4}{0/10/1,10/1.7/2,16.7/1.7/2,39/4.4/1,43.4/5/3}
  \generow{96}{9}{0/5/1,5/2.7/2,7.7/1.3/1}
  \generow{97}{11}{0/9/1,9/2/2}
  \generow{98}{4.4}{0/1.7/2,1.7/2.7/1}
  \generow{99}{14.4}{0/11.7/1,11.7/1.7/2,13.4/1/1}
  \generow{100}{5}{0/3.4/1,3.4/1.6/2}
  \generow{101}{10}{0/5/1,5/3.4/2,8.4/1.6/1}
  \generow{102}{13.4}{0/10/1,10/3.4/2}
  \generow{103}{15}{0/11.7/1,11.7/3.3/2}
  \generow{104}{15}{0/11.7/1,11.7/3.3/2}
  \generow{105}{41}{0/5/1,9/2/2,33.4/1.7/2,36.7/4.3/3}
  \generow{106}{24.4}{0/5/1,8.4/6.6/1,15/3.4/2,21.7/2.7/1}
  \generow{107}{171.7}{0/5/1,8.4/3.3/1,11.7/6.7/2,81.7/1.7/6,103.4/5/6,150/5/1,166.7/5/1}
  \generow{108}{65.7}{0/6.7/1,30/5/1,40/1.7/2,55/3.3/2,60/1.7/2,62.4/3.3/3}
  \generow{109}{34.4}{0/5/3,5/6.7/1,16.7/5.7/1,22.4/5.3/2,27.7/6.7/3}
  \generow{110}{20}{0/8.4/1,10/3.4/1,15/3.4/2,18.4/1.6/1}
  \generow{111}{64.4}{0/8.4/3,8.4/3.3/4,15/2.7/4,21.7/1.6/4,31.7/3.3/4,35/11.7/1,46.7/3/2,49.7/1.7/1,53.4/1.6/1,56.7/1.6/1,60/4.4/3}
  \generow{112}{40}{0/1.7/3,13.4/3.3/1,16.7/2.3/2,19/2.7/1,30/5/1,35/5/3}
  \generow{113}{33.4}{0/1.7/3,6.7/11.7/1,18.4/2.6/2,21.7/3.3/2,25/8.4/3}
  \generow{114}{26.7}{0/6.7/1,6.7/2.3/2,9/2.7/1,15/3.4/2,18.4/1.6/1,24.4/2.3/1}
  \generow{115}{40}{0/3.4/3,6.7/8.3/1,15/3.4/2,18.4/5/1,25/3.4/1,28.4/2.6/2,31.7/5/1,36.7/3.3/3}
  \generow{116}{15}{0/5/1,5/4/2,9/4.4/1,13.4/1.6/3}
  \generow{117}{15}{0/5/1,5/4/2,9/6/1}
  \generow{118}{18.4}{0/5/1,5/5/2,10/8.4/3}
  \generow{119}{29}{0/5/1,5/1.7/2,9/2.7/1,25/1.7/2,27.7/1.3/1}
  \generow{120}{50}{0/5/3,5/8.4/1,13.4/3.3/2,26.7/1.7/2,35/1.7/2,41/5.7/1,46.7/3.3/3}
  \generow{121}{40}{0/20/3,20/5/2,30/5/1,35/5/3}
  \generow{122}{21.7}{0/5/1,5/3.4/2,8.4/3.3/1,13.4/5/1,18.4/3.3/3}
  \generow{123}{32.4}{0/3.4/3,3.4/3.3/1,13.4/3.3/2,16.7/3.3/1,23.4/1.7/1,28.4/4/3}
  \generow{124}{30}{0/3.4/1,6.7/2.3/2,9/2.7/1,15/3.4/2,18.4/3.3/1,25/5/3}
  \generow{125}{28.4}{0/8.4/1,8.4/6.6/14,15/3.4/2,18.4/3.3/1,23.4/5/3}
  \generow{126}{28.4}{0/6.7/1,6.7/3.3/2,11.7/5/1,16.7/3.3/2,26.7/1.7/3}
  \generow{127}{45}{0/1.7/3,3.4/1.7/3,5/11.7/1,16.7/3.3/1,20/5/2,30/6.7/1,36.7/8.3/3}
  \generow{128}{26.7}{0/1.7/3,3/3.7/1,6.7/6.7/15,13.4/3.3/2,16.7/6/1,22.7/4/3}

  % Gene legend
  \foreach \c/\t [count=\k] in {1/Exon,0/Intron,3/UTR,2/HLH,4/bHLH-MYC\_N,
      5/ACT\_UUR-ACR-like,6/P-loop\_NTPase,7/TPR\_MLP1\_2,8/SMC\_N,9/ZapB,
      10/ACT,11/GlnD,12/PPR\_2,13/Med15,14/CDC27,15/MIP-T3}{
    \ifnum\c=0
      \draw[prot] (466.7,{30.7+(\k-1)*13.24}) -- ++(23.3,0);
    \else
      \fill[m\c] (466.7,{30.7+(\k-1)*13.24-4.4}) rectangle ++(23.3,8.8);
    \fi
    \node[legtxt] (gl\k) at (492.3,{30.7+(\k-1)*13.24}) {\t};
  }

  % Axes
  \draw[prot] (167.3,1213) -- (356.3,1213);
  \foreach \v [count=\k] in {0,200,...,1600}{
    \draw[prot,line width=0.6pt] ({167.3+\v*0.1181},1213) -- ++(0,2);
    \node[tick] (ma\k) at ({167.3+\v*0.1181},1223) {\v};
  }
  \node[tick] (m5) at (162,1210) {5$'$};
  \node[tick] (m3) at (358.5,1207) {3$'$};
  \node[axtitle] (mx) at (266,1234) {Amino acid length (aa)};
  \draw[prot] (388.3,1213) -- (579.3,1213);
  \foreach \p/\v [count=\k] in {0/0,3/3000,6/6000,9/9000,12/12000,15/15000,18/18000}{
    \draw[prot,line width=0.6pt] ({388.3+\p*10.611},1213) -- ++(0,2);
    \node[tick] (ga\k) at ({388.3+\p*10.611},1223) {\v};
  }
  \node[tick] (g5) at (383,1210) {5$'$};
  \node[tick] (g3) at (581.5,1207) {3$'$};
  \node[axtitle] (gx) at (481,1234) {DNA length (bp)};
\end{tikzpicture}
\end{document}
